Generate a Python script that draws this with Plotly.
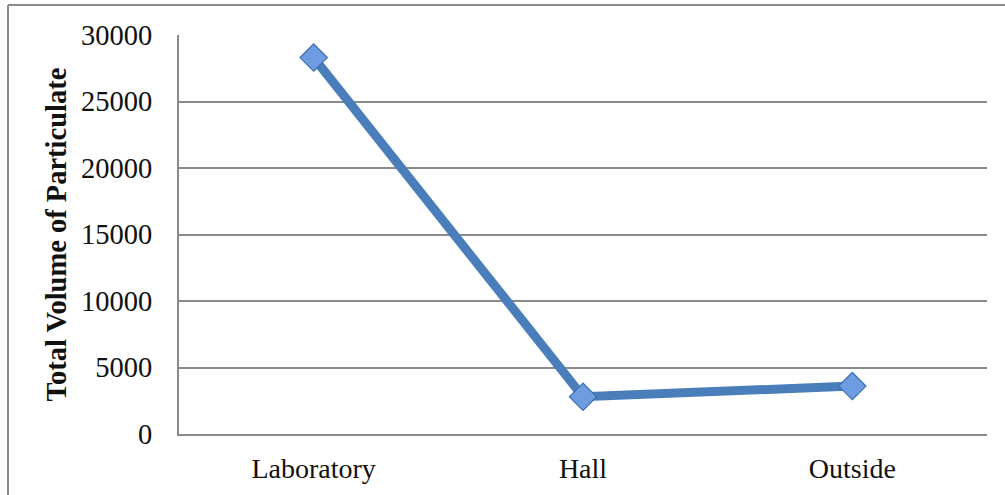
import plotly.graph_objects as go

# Particulate sampling sites and measured total volume
locations = ["Laboratory", "Hall", "Outside"]
total_volume = [28300, 2800, 3600]
y_ticks = [0, 5000, 10000, 15000, 20000, 25000, 30000]

W, H = 1005, 495
ML, MR, MT, MB = 179, 18, 35, 61
PW, PH = W - ML - MR, H - MT - MB


def px_x(p):
    return (p - ML) / PW


def px_y(p):
    return (H - MB - p) / PH


FONT = "Liberation Serif"
LINE_BLUE = "#4a7ebb"
GRID = "#8a8a8a"

fig = go.Figure()
fig.add_trace(go.Scatter(
    x=locations,
    y=total_volume,
    mode="lines+markers",
    line=dict(color=LINE_BLUE, width=9),
    marker=dict(symbol="diamond", size=21, color="#6d9de0",
                line=dict(color="#3f6fb0", width=1.2)),
    cliponaxis=False,
    showlegend=False,
))

fig.update_layout(
    width=W, height=H,
    margin=dict(l=ML, r=MR, t=MT, b=MB, autoexpand=False),
    paper_bgcolor="white",
    plot_bgcolor="white",
    font=dict(family=FONT, color="#111111", size=28),
    xaxis=dict(
        type="category",
        range=[-0.5, len(locations) - 0.5],
        automargin=False,
        showgrid=False,
        showline=True, linecolor=GRID, linewidth=2,
        ticks="", ticklabelstandoff=8,
        tickfont=dict(family=FONT, size=28),
        zeroline=False,
    ),
    yaxis=dict(
        range=[0, 30000],
        automargin=False,
        tickvals=y_ticks,
        ticktext=[str(v) for v in y_ticks],
        showgrid=True, gridcolor=GRID, gridwidth=1.5,
        showline=True, linecolor=GRID, linewidth=2,
        ticks="", ticklabelstandoff=19,
        tickfont=dict(family=FONT, size=28.5),
        zeroline=False,
    ),
    shapes=[
        # outer frame: left and top edges
        dict(type="line", xref="paper", yref="paper",
             x0=px_x(8), x1=px_x(8), y0=px_y(5), y1=px_y(H + 2),
             line=dict(color="#8a8a8a", width=2)),
        dict(type="line", xref="paper", yref="paper",
             x0=px_x(8), x1=px_x(W + 2), y0=px_y(5), y1=px_y(5),
             line=dict(color="#8a8a8a", width=2)),
    ],
    annotations=[
        dict(text="<b>Total Volume of Particulate</b>",
             xref="paper", yref="paper",
             x=px_x(56), y=0.5, xanchor="center", yanchor="middle",
             textangle=-90, showarrow=False,
             font=dict(family=FONT, size=28.5, color="#111111")),
    ],
)

fig.write_html("out.html")
